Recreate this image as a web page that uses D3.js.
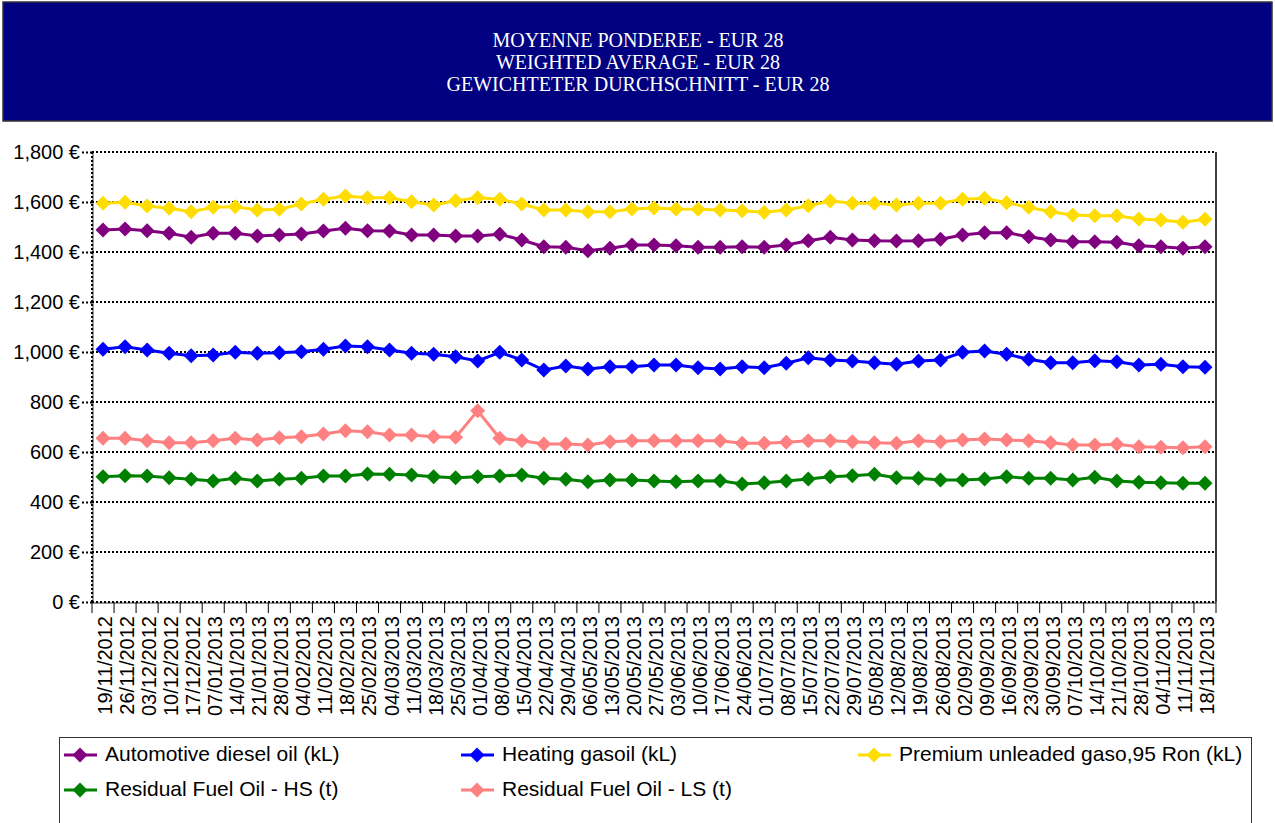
<!DOCTYPE html>
<html><head><meta charset="utf-8">
<script src="https://cdn.jsdelivr.net/npm/d3@7"></script>
<style>body{margin:0;background:#fff}svg{display:block}</style>
</head><body><svg id="c" width="1275" height="823"></svg>
<script>
const dates = ["19/11/2012","26/11/2012","03/12/2012","10/12/2012","17/12/2012","07/01/2013","14/01/2013","21/01/2013","28/01/2013","04/02/2013","11/02/2013","18/02/2013","25/02/2013","04/03/2013","11/03/2013","18/03/2013","25/03/2013","01/04/2013","08/04/2013","15/04/2013","22/04/2013","29/04/2013","06/05/2013","13/05/2013","20/05/2013","27/05/2013","03/06/2013","10/06/2013","17/06/2013","24/06/2013","01/07/2013","08/07/2013","15/07/2013","22/07/2013","29/07/2013","05/08/2013","12/08/2013","19/08/2013","26/08/2013","02/09/2013","09/09/2013","16/09/2013","23/09/2013","30/09/2013","07/10/2013","14/10/2013","21/10/2013","28/10/2013","04/11/2013","11/11/2013","18/11/2013"];
const diesel = [1488,1492,1485,1475,1459,1475,1475,1464,1468,1472,1484,1495,1485,1484,1468,1468,
  1464,1464,1471,1448,1421,1419,1405,1415,1428,1428,1425,1419,1419,1421,1419,1428,1445,1459,1448,1445,
  1444,1445,1451,1468,1477,1477,1461,1448,1441,1441,1439,1425,1421,1415,1421];
const heating = [1011,1021,1008,995,985,988,999,995,997,1001,1011,1024,1021,1008,995,991,
  981,964,999,968,928,944,932,941,941,948,948,937,932,941,937,955,977,968,964,957,
  951,964,968,999,1004,991,971,957,957,965,961,948,951,941,939];
const premium = [1595,1599,1584,1575,1561,1579,1581,1568,1571,1592,1611,1624,1617,1617,1601,1588,
  1605,1617,1611,1592,1568,1568,1561,1561,1572,1576,1572,1571,1568,1565,1559,1568,1585,1604,1595,1595,
  1588,1595,1595,1611,1615,1597,1579,1561,1548,1545,1545,1532,1528,1519,1531];
const residualHS = [501,505,504,497,491,484,495,484,491,495,504,504,512,511,508,501,
  497,501,504,508,495,491,481,488,488,484,481,484,485,472,477,484,492,501,505,511,
  497,495,488,488,492,501,495,495,488,499,484,479,477,475,475];
const residualLS = [655,655,645,637,637,645,655,648,657,661,672,685,681,668,668,661,
  659,765,655,645,632,632,628,641,645,645,645,645,645,635,635,639,645,645,641,637,
  635,645,641,648,652,648,645,637,628,628,631,621,619,617,621];
const seriesNames = ["Automotive diesel oil (kL)","Heating gasoil (kL)","Premium unleaded gaso,95 Ron (kL)","Residual Fuel Oil - HS (t)","Residual Fuel Oil - LS (t)"];
const seriesColors = ["#800080","#0000FF","#FFDD00","#008000","#FF8080"];
const yTicks = [0,200,400,600,800,1000,1200,1400,1600,1800];
const titleLines = ["MOYENNE PONDEREE - EUR 28","WEIGHTED AVERAGE - EUR 28","GEWICHTETER DURCHSCHNITT - EUR 28"];

const series = [diesel, heating, premium, residualHS, residualLS];
const svg = d3.select("#c");
const L=92, R=1216, T=152, B=602;

// Title banner
svg.append("rect").attr("x",3).attr("y",2).attr("width",1269).attr("height",119)
  .attr("fill","#000080").attr("stroke","#333").attr("stroke-width",1.5);
svg.selectAll("text.title").data(titleLines).join("text").attr("class","title")
  .attr("x",638).attr("y",(d,i)=>47+i*22).attr("text-anchor","middle")
  .attr("fill","#fff").attr("font-family","'Liberation Serif','Times New Roman',serif")
  .attr("font-size",20).text(d=>d);

const x = d3.scaleBand().domain(dates).range([L,R]);
const y = d3.scaleLinear().domain([0,1800]).range([B,T]);
const cx = d => x(d)+x.bandwidth()/2;

// gridlines
svg.append("g").selectAll("line").data(yTicks.filter(v=>v>0)).join("line")
  .attr("x1",L).attr("x2",R).attr("y1",d=>y(d)).attr("y2",d=>y(d))
  .attr("stroke","#000").attr("stroke-width",2).attr("stroke-dasharray","2,2");

// y axis
const ya = svg.append("g").attr("transform",`translate(${L},0)`)
  .call(d3.axisLeft(y).tickValues(yTicks).tickSize(10).tickPadding(2)
    .tickFormat(v=>d3.format(",")(v)+" €"));
ya.select(".domain").remove();
ya.selectAll(".tick line").attr("stroke","#000").attr("stroke-width",2).attr("stroke-dasharray","2,2");
ya.selectAll(".tick text").attr("font-family","'Liberation Sans',Arial,sans-serif")
  .attr("font-size",20).attr("fill","#000");
svg.append("line").attr("x1",L).attr("x2",L).attr("y1",T).attr("y2",B)
  .attr("stroke","#000").attr("stroke-width",2).attr("stroke-dasharray","2,2");
svg.append("line").attr("x1",L+1).attr("x2",L+1).attr("y1",T).attr("y2",B)
  .attr("stroke","#000").attr("stroke-width",0.8);
// right border
svg.append("line").attr("x1",R).attr("x2",R).attr("y1",T).attr("y2",B)
  .attr("stroke","#000").attr("stroke-width",1.5);

// x axis
svg.append("line").attr("x1",L).attr("x2",R).attr("y1",B).attr("y2",B)
  .attr("stroke","#000").attr("stroke-width",2).attr("stroke-dasharray","2,2");
svg.append("line").attr("x1",L).attr("x2",R).attr("y1",B+1).attr("y2",B+1)
  .attr("stroke","#000").attr("stroke-width",0.8);
const bounds = dates.map(d=>x(d)).concat([R]);
svg.append("g").selectAll("line").data(bounds).join("line")
  .attr("x1",d=>d).attr("x2",d=>d).attr("y1",B).attr("y2",B+11)
  .attr("stroke","#000").attr("stroke-width",1);
svg.append("g").selectAll("text").data(dates).join("text")
  .attr("transform",d=>`translate(${cx(d)+9},${616}) rotate(-90)`)
  .attr("text-anchor","end").attr("font-family","'Liberation Sans',Arial,sans-serif")
  .attr("font-size",20).attr("fill","#000").text(d=>d);

// series
const diamond = s => `M0,${-s}L${s},0L0,${s}L${-s},0Z`;
const line = d3.line().x((v,i)=>cx(dates[i])).y(v=>y(v));
series.forEach((vals,k)=>{
  const g = svg.append("g");
  g.append("path").attr("d",line(vals)).attr("fill","none")
    .attr("stroke",seriesColors[k]).attr("stroke-width",3);
  g.selectAll("path.m").data(vals).join("path").attr("class","m")
    .attr("d",diamond(7.5)).attr("transform",(v,i)=>`translate(${cx(dates[i])},${y(v)})`)
    .attr("fill",seriesColors[k]);
});

// legend
svg.append("rect").attr("x",59.5).attr("y",737.5).attr("width",1192).attr("height",100)
  .attr("fill","#fff").attr("stroke","#333").attr("stroke-width",1);
const lg = svg.append("g").selectAll("g").data(seriesNames).join("g")
  .attr("transform",(d,i)=>`translate(${80+(i%3)*397},${755+Math.floor(i/3)*35})`);
lg.append("line").attr("x1",-16).attr("x2",17).attr("y1",0).attr("y2",0)
  .attr("stroke",(d,i)=>seriesColors[i]).attr("stroke-width",3);
lg.append("path").attr("d",diamond(7.5)).attr("fill",(d,i)=>seriesColors[i]);
lg.append("text").attr("x",25).attr("y",6).attr("font-family","'Liberation Sans',Arial,sans-serif")
  .attr("font-size",21).attr("fill","#000").text(d=>d);
</script></body></html>
